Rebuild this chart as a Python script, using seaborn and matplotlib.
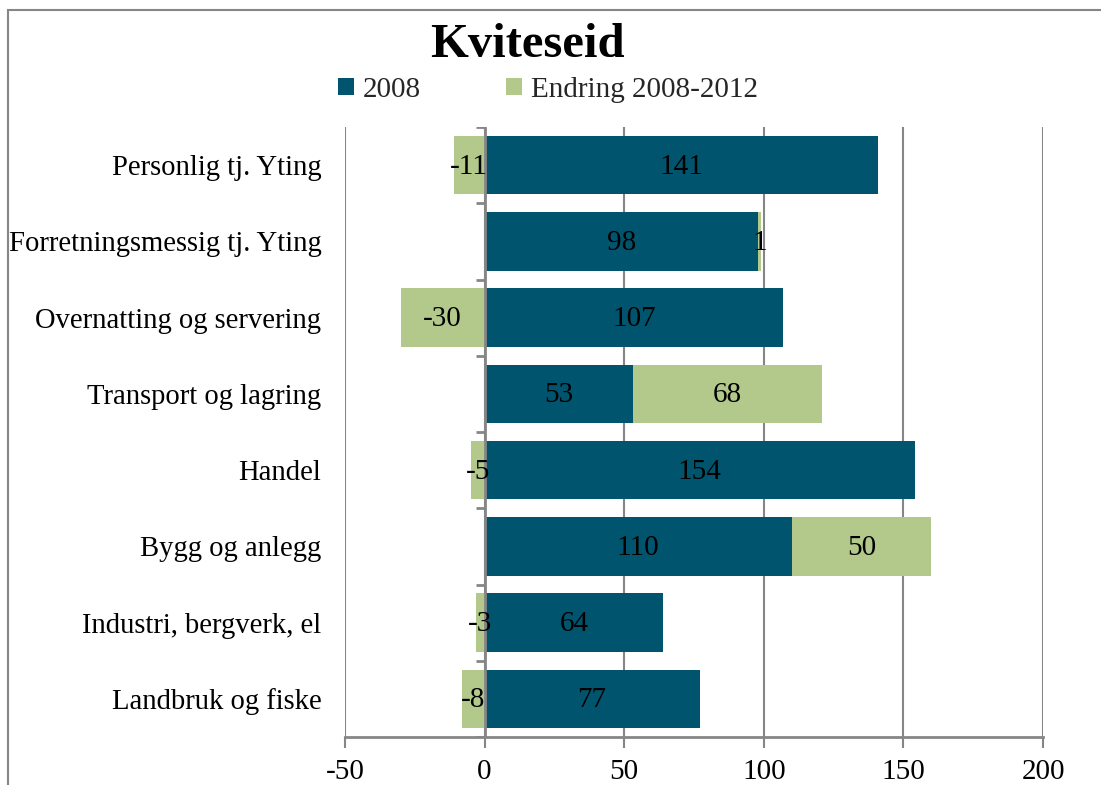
import numpy as np
import pandas as pd
import matplotlib
matplotlib.use('Agg')
import matplotlib.pyplot as plt
import seaborn as sns
from matplotlib.patches import Patch, Rectangle

# data
categories = ['Personlig tj. Yting', 'Forretningsmessig tj. Yting',
              'Overnatting og servering', 'Transport og lagring', 'Handel',
              'Bygg og anlegg', 'Industri, bergverk, el', 'Landbruk og fiske']
v2008 = [141, 98, 107, 53, 154, 110, 64, 77]
endring = [-11, 1, -30, 68, -5, 50, -3, -8]
legend_labels = ['2008', 'Endring 2008-2012']
x_ticks = [-50, 0, 50, 100, 150, 200]

dark = '#00546e'
green = '#b3c98b'
grey = '#868686'

sns.set_theme(style='white')
plt.rcParams['font.family'] = ['Liberation Serif', 'DejaVu Serif']
plt.rcParams['axes.unicode_minus'] = False

df = pd.DataFrame({'kat': categories, 'v2008': v2008, 'endring': endring})
# positive change is stacked after the 2008 bar, negative change goes left from 0
df['green_end'] = np.where(df['endring'] > 0, df['v2008'] + df['endring'], df['endring'])

fig = plt.figure(figsize=(11.01, 7.85), dpi=100)
ax = fig.add_axes([345/1101, 1 - 737/785, (1043 - 345)/1101, (737 - 127)/785])

ax.set_xlim(-50, 200)
ax.set_xticks(x_ticks)
ax.grid(axis='x', color=grey, linewidth=1.5)
ax.set_axisbelow(True)

sns.barplot(data=df, y='kat', x='green_end', orient='h', color=green,
            width=0.77, saturation=1, linewidth=0, ax=ax)
sns.barplot(data=df, y='kat', x='v2008', orient='h', color=dark,
            width=0.77, saturation=1, linewidth=0, ax=ax)
ax.set_ylim(7.5, -0.5)

# zero axis with small ticks at category boundaries
ax.axvline(0, color=grey, linewidth=2, zorder=3)
ax.hlines(np.arange(-0.5, len(categories)), -3, 0, color=grey, linewidth=2, zorder=3)

fs = 21
for i, (b, e) in enumerate(zip(v2008, endring)):
    ax.text(b / 2, i + 0.02, str(b), ha='center', va='center', fontsize=fs, color='black', zorder=4)
    cx = b + e / 2 if e > 0 else e / 2
    ax.text(cx, i + 0.02, str(e), ha='center', va='center', fontsize=fs, color='black', zorder=4)

for s in ['left', 'right', 'top']:
    ax.spines[s].set_visible(False)
ax.spines['bottom'].set_color(grey)
ax.spines['bottom'].set_linewidth(2)
ax.tick_params(axis='x', bottom=True, length=8, width=1.5, color=grey,
               labelsize=fs, pad=8, labelcolor='black')
ax.tick_params(axis='y', left=False, length=0, labelsize=20.6, pad=17, labelcolor='black')
ax.set_xlabel('')
ax.set_ylabel('')

fig.text(527/1101, 1 - 45/785, 'Kviteseid', ha='center', va='center',
         fontsize=35, fontweight='bold', color='black')

handles = [Patch(facecolor=dark, edgecolor='none'), Patch(facecolor=green, edgecolor='none')]
fig.legend(handles, legend_labels, loc='center left', bbox_to_anchor=(312/1101, 1 - 90/785),
           ncol=2, frameon=False, fontsize=fs, handlelength=0.55, handleheight=0.55,
           handletextpad=0.3, columnspacing=2.9)

# chart border
fig.patches.append(Rectangle((8/1101, -0.05), 1.2, 1 - 10/785 + 0.05,
                             transform=fig.transFigure, fill=False,
                             edgecolor=grey, linewidth=1.5))

fig.savefig('out.png', dpi=100)
